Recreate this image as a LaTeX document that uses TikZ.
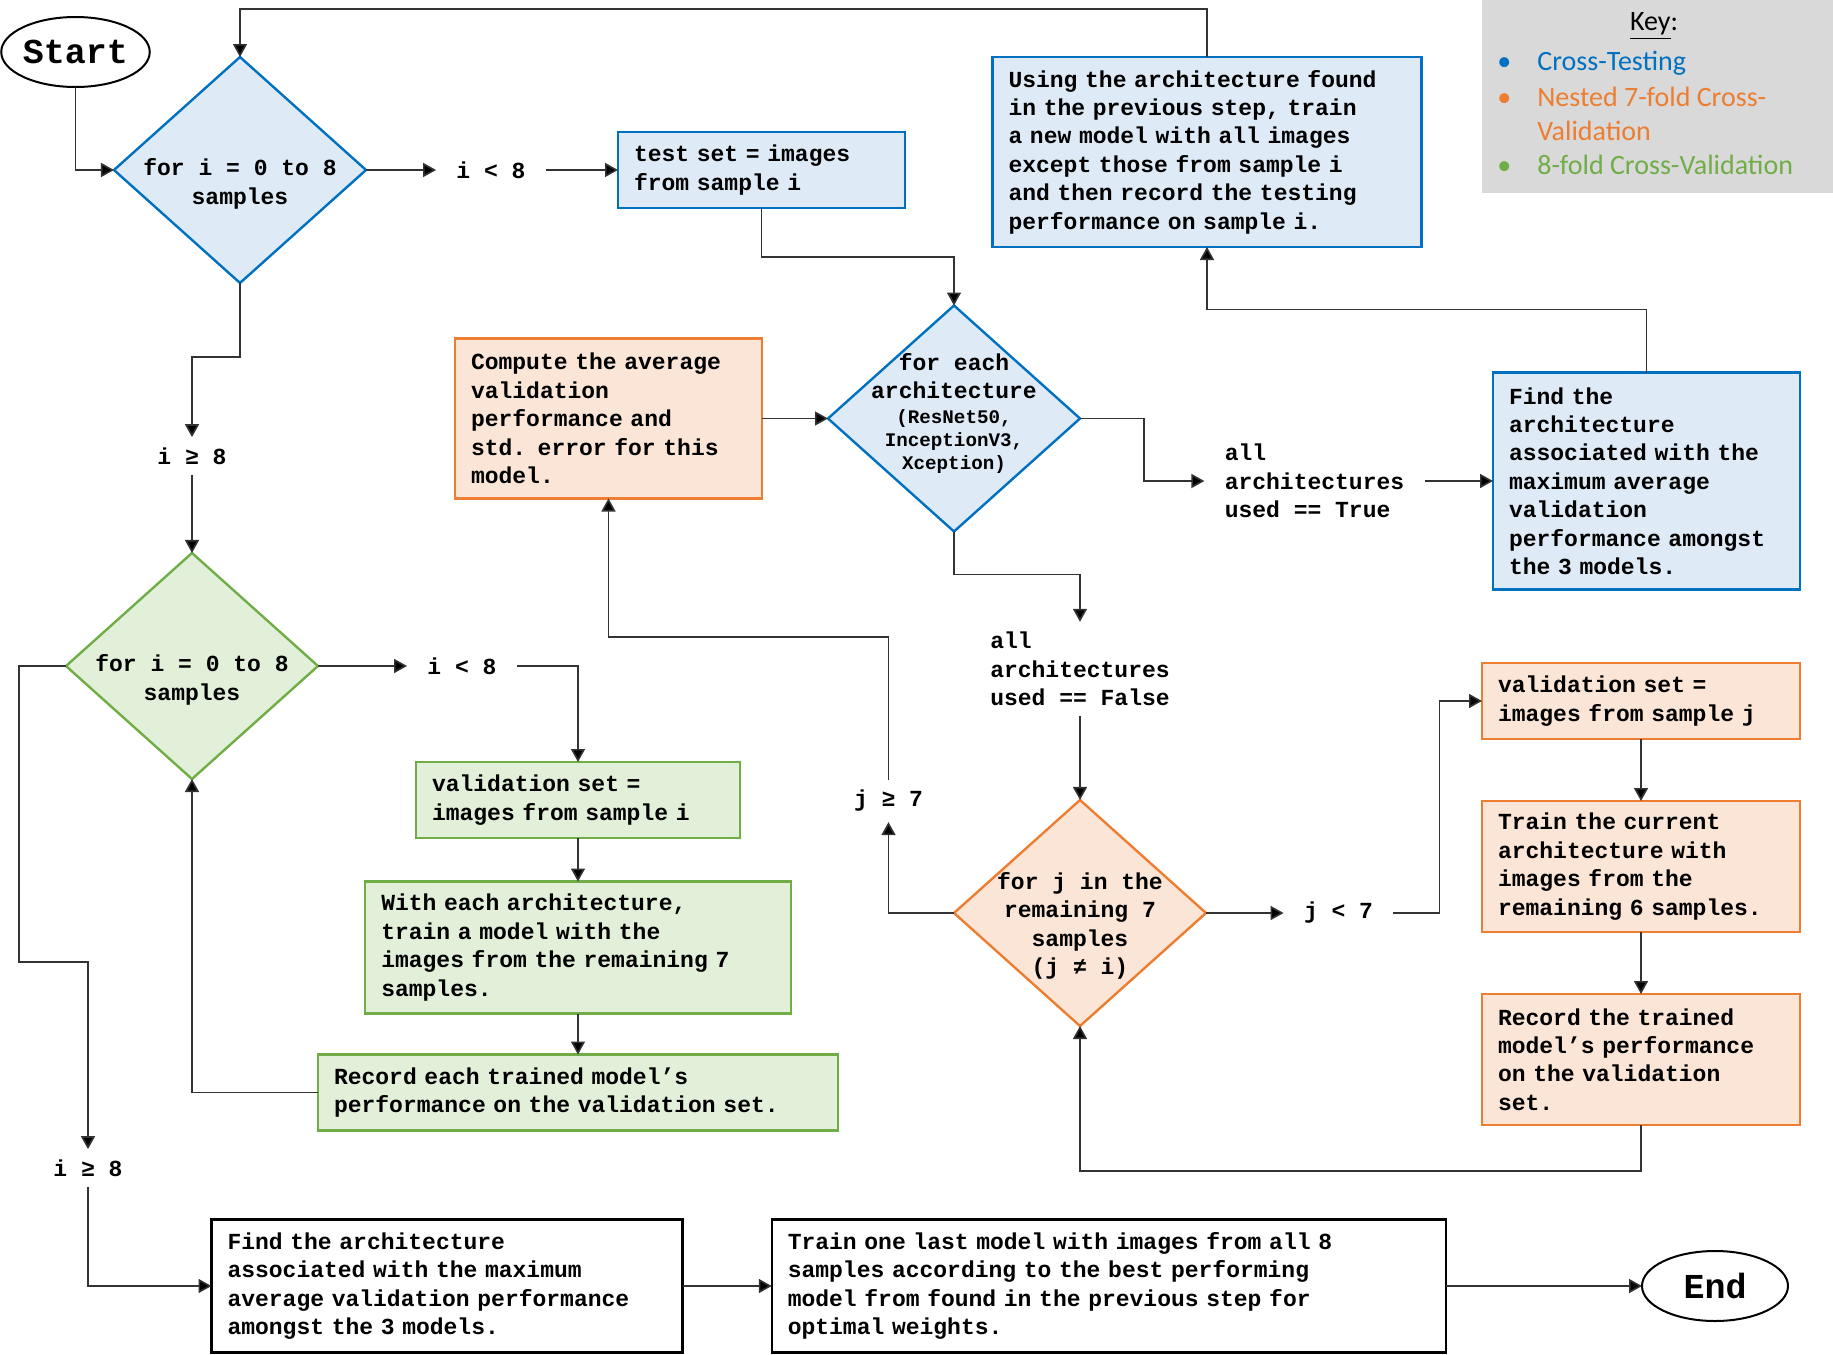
\documentclass[tikz,border=0pt]{standalone}
\usepackage{fontspec}
\usetikzlibrary{shapes.geometric,arrows.meta}
\newfontfamily\flowfont{Liberation Mono}
\newfontfamily\keyfont{Carlito}
\newcommand{\flowsize}{\fontsize{11.5pt}{14.2pt}\selectfont}
\newcommand{\archsize}{\fontsize{9.6pt}{11.8pt}\selectfont}
\definecolor{ct border}{HTML}{0070C0}
\definecolor{ct fill}{HTML}{DEEBF7}
\definecolor{ncv border}{HTML}{ED7D31}
\definecolor{ncv fill}{HTML}{FBE5D6}
\definecolor{cv border}{HTML}{70AD47}
\definecolor{cv fill}{HTML}{E2F0D9}
\definecolor{plain border}{HTML}{000000}
\definecolor{plain fill}{HTML}{FFFFFF}
\definecolor{key background color}{HTML}{D9D9D9}
\colorlet{connector color}{black!80}
\tikzset{
    x={0.5pt},
    y={-0.5pt},
    process/.style={
        draw={#1 border}, fill={#1 fill},
        line width={1.2pt},
        rectangle,
        align=left,
        font={\flowfont\bfseries\flowsize},
        inner xsep=8pt, inner ysep=4pt,
        outer sep=0pt,
    },
    process/.default={plain},
    decision/.style={
        draw={#1 border}, fill={#1 fill},
        line width={1.2pt},
        diamond,
        inner sep=0pt, outer sep=0pt,
        minimum width={126pt},
        minimum height={113pt},
    },
    decision text/.style={
        align=center,
        font={\flowfont\bfseries\flowsize},
        inner sep=0pt,
    },
    terminal/.style={
        draw, ellipse,
        line width={1pt},
        font={\flowfont\bfseries\fontsize{17.5pt}{20pt}\selectfont},
        inner sep=0pt, outer sep=0pt,
        minimum width={73pt},
        minimum height={35pt},
    },
    condition/.style={
        align=left,
        font={\flowfont\bfseries\flowsize},
        inner xsep=10pt, inner ysep=5pt,
    },
    connector/.style={
        draw=connector color,
        line width={0.8pt},
        -{Triangle[length=6.5pt,width=7pt,fill=black]},
    },
    key item/.style={
        anchor=west, align=left,
        text={#1},
        font={\keyfont\fontsize{14pt}{17pt}\selectfont},
        inner sep=0pt,
    },
}

\begin{document}
\begin{tikzpicture}
\useasboundingbox (0,0) rectangle (1833,1355);
% key
\node[fill=key background color, inner sep=0pt, minimum width=175.5pt, minimum height=96.5pt] (key) at (1657.5,96.5) {};
\node[key item=black, anchor=center] (keyTitle) at (1654,26) {\underline{Key}:};
\node[key item=ct border] (keyCT) at (1537,63) {\llap{\textbullet\hspace{13pt}}Cross-Testing};
\node[key item=ncv border] (keyNCV) at (1537,113.5) {\llap{\textbullet\hspace{13pt}}Nested 7-fold Cross-\\Validation};
\node[key item=cv border] (keyCV) at (1537,165) {\llap{\textbullet\hspace{13pt}}8-fold Cross-Validation};
% terminals
\node[terminal] (start) at (75.5,52) {Start};
\node[terminal] (end) at (1715,1286) {End};
% decisions
\node[decision=ct, label={[decision text, yshift=-7pt]center:{for i = 0 to 8\\samples}}] (forI) at (240,170) {};
\node[decision=ct, label={[decision text, yshift=2.5pt]center:{for each\\architecture\\[-2pt]\archsize (ResNet50,\\[-2.5pt]\archsize InceptionV3,\\[-2.5pt]\archsize Xception)}}] (forEach) at (954,418.5) {};
\node[decision=ncv, label={[decision text, yshift=-6.5pt]center:{for j in the\\remaining 7\\samples\\(j ≠ i)}}] (forJ) at (1080,913) {};
\node[decision=cv, label={[decision text, yshift=-7pt]center:{for i = 0 to 8\\samples}}] (forIcv) at (192,666) {};
% conditions
\node[condition] (ltTest) at (491,170) {i < 8};
\node[condition] (allTrue) at (1314.5,481) {all\\architectures\\used == True};
\node[condition] (allFalse) at (1080,669) {all\\architectures\\used == False};
\node[condition] (geJ) at (888.5,801) {j ≥ 7};
\node[condition] (ltJ) at (1338.5,913) {j < 7};
\node[condition] (geI) at (192,456) {i ≥ 8};
\node[condition] (ltVal) at (462,666) {i < 8};
\node[condition] (geIdone) at (88,1168) {i ≥ 8};
% boxes
\node[process=ct, text width=127.5pt, minimum height=38pt] (testSet) at (761.5,170) {test set = images\\from sample i};
\node[process=ct, text width=198.5pt, minimum height=95pt] (using) at (1207,152) {Using the architecture found\\in the previous step, train\\a new model with all images\\except those from sample i\\and then record the testing\\performance on sample i.};
\node[process=ncv, text width=137.5pt, minimum height=80pt] (compute) at (608.5,418.5) {Compute the average\\validation\\performance and\\std. error for this\\model.};
\node[process=ct, text width=137.5pt, minimum height=108.5pt] (findArch) at (1646.5,481) {Find the\\architecture\\associated with the\\maximum average\\validation\\performance amongst\\the 3 models.};
\node[process=ncv, text width=143pt, minimum height=38pt] (valJ) at (1641,701) {validation set =\\images from sample j};
\node[process=ncv, text width=143pt, minimum height=65.5pt] (trainCur) at (1641,866.5) {Train the current\\architecture with\\images from the\\remaining 6 samples.};
\node[process=ncv, text width=143pt, minimum height=65.5pt] (recTrained) at (1641,1059.5) {Record the trained\\model’s performance\\on the validation\\set.};
\node[process=cv, text width=146pt, minimum height=38pt] (valI) at (578,800) {validation set =\\images from sample i};
\node[process=cv, text width=196.75pt, minimum height=66pt] (withEach) at (578,947.5) {With each architecture,\\train a model with the\\images from the remaining 7\\samples.};
\node[process=cv, text width=244pt, minimum height=38pt] (recEach) at (578,1092.5) {Record each trained model’s\\performance on the validation set.};
\node[process, text width=219.5pt, minimum height=66.5pt] (findBest) at (447,1286) {Find the architecture\\associated with the maximum\\average validation performance\\amongst the 3 models.};
\node[process, text width=321.25pt, minimum height=66.5pt] (trainLast) at (1109,1286) {Train one last model with images from all 8\\samples according to the best performing\\model from found in the previous step for\\optimal weights.};
% connectors
\draw[connector] (start) |- (forI);
\draw[connector] (using.north) -- ++(0,-48) -| (forI.north);
\draw[connector] (forI) -- (ltTest);
\draw[connector] (ltTest) -- (testSet);
\draw[connector] (testSet.south) -- ++(0,49) -| (forEach.north);
\draw[connector] (compute) -- (forEach);
\draw[connector] (forEach.east) -- ++(64,0) |- (allTrue.west);
\draw[connector] (allTrue) -- (findArch);
\draw[connector] (findArch.north) -- ++(0,-63) -| (using.south);
\draw[connector] (forEach.south) -- ++(0,43) -| (allFalse.north);
\draw[connector] (allFalse) -- (forJ);
\draw[connector] (forJ) -| (geJ);
\draw[connector] (geJ.north) -- ++(0,-143) -| (compute.south);
\draw[connector] (forJ) -- (ltJ);
\draw[connector] (ltJ.east) -- ++(46,0) |- (valJ.west);
\draw[connector] (valJ) -- (trainCur);
\draw[connector] (trainCur) -- (recTrained);
\draw[connector] (recTrained.south) -- ++(0,46) -| (forJ.south);
\draw[connector] (forI.south) -- ++(0,74) -| (geI.north);
\draw[connector] (geI) -- (forIcv);
\draw[connector] (forIcv) -- (ltVal);
\draw[connector] (ltVal.east) -| (valI.north);
\draw[connector] (valI) -- (withEach);
\draw[connector] (withEach) -- (recEach);
\draw[connector] (recEach) -| (forIcv);
\draw[connector] (forIcv.west) -- ++(-47,0) -- ++(0,296) -| (geIdone.north);
\draw[connector] (geIdone) |- (findBest);
\draw[connector] (findBest) -- (trainLast);
\draw[connector] (trainLast) -- (end);
\end{tikzpicture}
\end{document}
